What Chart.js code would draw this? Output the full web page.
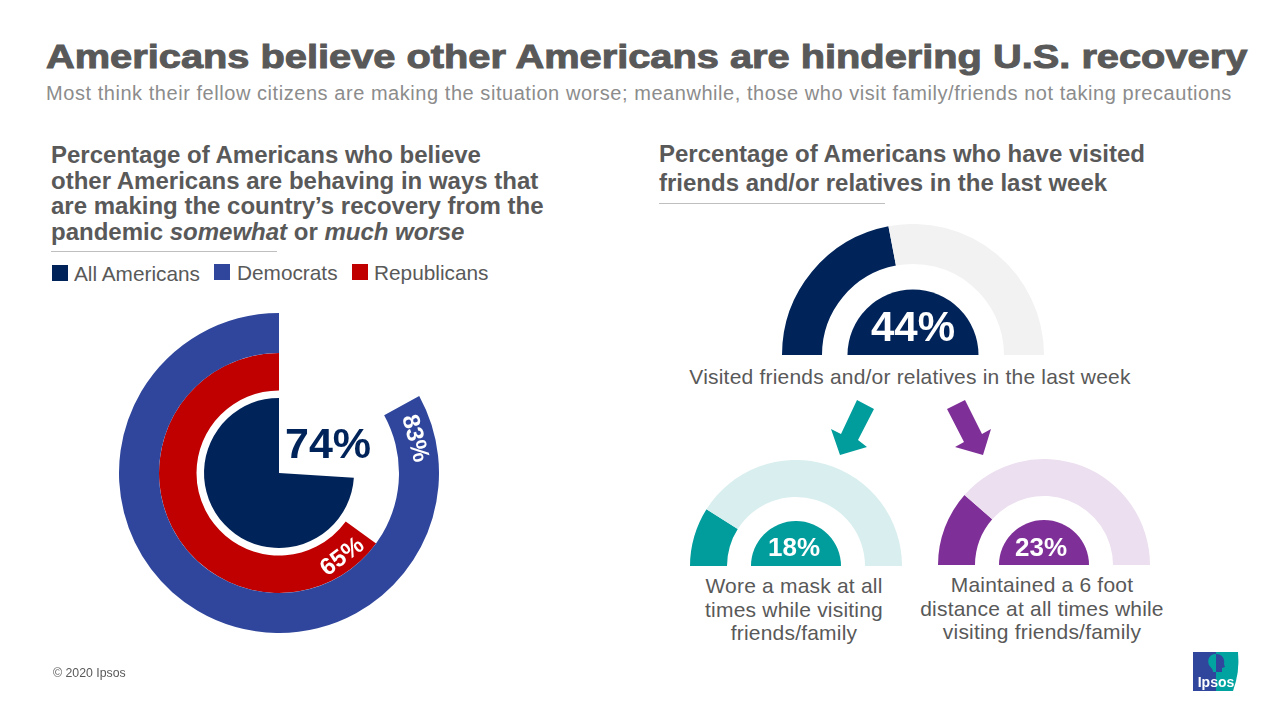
<!DOCTYPE html>
<html>
<head>
<meta charset="utf-8">
<title>Americans believe other Americans are hindering U.S. recovery</title>
<script src="https://cdn.jsdelivr.net/npm/chart.js@4"></script>
<style>
    html, body { margin: 0; padding: 0; background: #fff; }
    body { position: relative; width: 1280px; height: 720px; overflow: hidden; font-family: "Liberation Sans", Arial, sans-serif; color: #595959; }
    .abs { position: absolute; white-space: nowrap; }
    canvas { position: absolute; }
    #title { left: 46px; top: 34.5px; font-size: 34px; line-height: 42px; font-weight: bold; -webkit-text-stroke: 1px #595959; transform-origin: left center; transform: scaleX(1.17); }
    #subtitle { left: 46px; top: 81px; font-size: 20px; line-height: 24px; color: #8c8c8c; letter-spacing: 0.55px; }
    .head { font-size: 24px; font-weight: bold; }
    #headLeft { left: 51px; top: 142px; line-height: 25.5px; }
    #headRight { left: 659px; top: 139px; line-height: 29px; }
    .rule { position: absolute; height: 1px; background: #bfbfbf; width: 226px; }
    .legendBox { position: absolute; width: 16px; height: 16px; }
    .legendText { font-size: 20.8px; line-height: 24px; }
    .note { font-size: 21px; line-height: 23.5px; letter-spacing: 0.2px; text-align: center; transform: translateX(-50%); }
    #copy { left: 53px; top: 666px; font-size: 12.3px; line-height: 14px; }
</style>
</head>
<body>

<div class="abs" id="title">Americans believe other Americans are hindering U.S. recovery</div>
<div class="abs" id="subtitle">Most think their fellow citizens are making the situation worse; meanwhile, those who visit family/friends not taking precautions</div>

<div class="abs head" id="headLeft">Percentage of Americans who believe<br>other Americans are behaving in ways that<br>are making the country’s recovery from the<br>pandemic <i>somewhat</i> or <i>much worse</i></div>
<div class="rule" style="left:51px;top:251px"></div>
<div id="legend"></div>

<div class="abs head" id="headRight">Percentage of Americans who have visited<br>friends and/or relatives in the last week</div>
<div class="rule" style="left:659px;top:203px"></div>

<canvas id="ringChart" width="320" height="320" style="left:119px;top:313px"></canvas>
<canvas id="visitChart" width="262" height="131" style="left:782px;top:224px"></canvas>
<canvas id="maskChart" width="212" height="106" style="left:690px;top:460px"></canvas>
<canvas id="distanceChart" width="212" height="106" style="left:938px;top:459px"></canvas>

<div class="abs note" style="left:910px;top:365px" id="visitNote"></div>
<div class="abs note" style="left:794px;top:574px" id="maskNote"></div>
<div class="abs note" style="left:1042px;top:573px" id="distanceNote"></div>

<svg class="abs" style="left:0;top:0" width="1280" height="720">
    <polygon points="857,400 874,409 858,440 867,447 840,455 831,429 841,434" fill="#009D9C"/>
    <polygon points="947,409 965,400 982,434 991,429 983,455 955,447 964,442" fill="#7F3098"/>
    <!-- logo -->
    <path d="M1193 652H1216V691H1193Z" fill="#2F469C"/>
    <path d="M1216 652H1238Q1240 672 1233 691H1216Z" fill="#00A3A0"/>
    <path d="M1216 654C1209 654 1207 660 1209 665C1211 668 1213 669 1213 672H1216Z" fill="#00A3A0"/>
    <path d="M1216 654C1223 654 1225 660 1224 664L1225 667L1222 668V672H1216Z" fill="#2F469C"/>
    <text x="1216" y="687" font-family="Liberation Sans" font-size="14" font-weight="bold" fill="#fff" text-anchor="middle">Ipsos</text>
</svg>

<div class="abs" id="copy">© 2020 Ipsos</div>

<script>
const seriesNames = ["All Americans", "Democrats", "Republicans"];
const seriesValues = [74, 83, 65];
const seriesColors = ["#00245A", "#2F469C", "#C00000"];

const visitNotes = [
    "Visited friends and/or relatives in the last week",
    "Wore a mask at all<br>times while visiting<br>friends/family",
    "Maintained a 6 foot<br>distance at all times while<br>visiting friends/family",
];
const visitValues = [44, 18, 23];

document.addEventListener("DOMContentLoaded", function () {
    /* ======================
       LEGEND + NOTES
    ====================== */
    const legendSpots = [[52, 74, 265, 262], [214, 237, 264, 261], [352, 374, 264, 261]];
    document.getElementById("legend").innerHTML = seriesNames.map((name, i) => {
        const [boxX, textX, boxY, textY] = legendSpots[i];
        return `<div class="legendBox" style="left:${boxX}px;top:${boxY}px;background:${seriesColors[i]}"></div>
                <div class="abs legendText" style="left:${textX}px;top:${textY}px">${name}</div>`;
    }).join("");

    ["visitNote", "maskNote", "distanceNote"].forEach((id, i) => {
        document.getElementById(id).innerHTML = visitNotes[i];
    });

    /* ======================
       VALUE LABELS PLUGIN
    ====================== */
    const valueLabels = {
        id: "valueLabels",
        afterDatasetsDraw(chart, args, opts) {
            const ctx = chart.ctx;
            const area = chart.getDatasetMeta(0).data[0];
            ctx.save();
            ctx.textAlign = "center";
            (opts.items || []).forEach(item => {
                ctx.save();
                ctx.font = item.font;
                ctx.fillStyle = item.color;
                if (item.along !== undefined) {
                    // sits on the ring, a few degrees past the start of the arc
                    const arc = chart.getDatasetMeta(item.along).data[0];
                    const a = arc.startAngle + item.past * Math.PI / 180;
                    const r = (arc.innerRadius + arc.outerRadius) / 2 + (item.out || 0);
                    ctx.translate(arc.x + r * Math.cos(a), arc.y + r * Math.sin(a));
                    ctx.rotate(item.turn * Math.PI / 180);
                    ctx.textBaseline = "middle";
                    ctx.fillText(item.text, 0, 0);
                } else {
                    ctx.textBaseline = "alphabetic";
                    ctx.fillText(item.text, area.x + item.dx, area.y + item.dy);
                }
                ctx.restore();
            });
            ctx.restore();
        },
    };

    const baseOptions = {
        responsive: false,
        animation: false,
        events: [],
        layout: { padding: 0 },
    };

    /* ======================
       CONCENTRIC RINGS
    ====================== */
    const [allValue, demValue, repValue] = seriesValues;

    new Chart(document.getElementById("ringChart"), {
        type: "doughnut",
        plugins: [valueLabels],
        data: {
            datasets: [
                {
                    label: seriesNames[1],
                    data: [demValue, 100 - demValue],
                    backgroundColor: [seriesColors[1], "transparent"],
                    rotation: (100 - demValue) * 3.6,
                    weight: 40,
                },
                {
                    label: seriesNames[2],
                    data: [repValue, 100 - repValue],
                    backgroundColor: [seriesColors[2], "transparent"],
                    rotation: (100 - repValue) * 3.6,
                    weight: 37.5,
                },
                { label: "gap", data: [100], backgroundColor: ["transparent"], weight: 7.5 },
                {
                    label: seriesNames[0],
                    data: [allValue, 100 - allValue],
                    backgroundColor: [seriesColors[0], "transparent"],
                    rotation: (100 - allValue) * 3.6,
                    weight: 75,
                },
            ],
        },
        options: {
            ...baseOptions,
            cutout: 0,
            borderWidth: 0,
            plugins: {
                legend: { display: false },
                tooltip: { enabled: false },
                valueLabels: {
                    items: [
                        { text: allValue + "%", font: "bold 43px 'Liberation Sans'", color: seriesColors[0], dx: 49, dy: -15 },
                        { text: demValue + "%", font: "bold 24px 'Liberation Sans'", color: "#fff", along: 0, past: 14.5, turn: 75 },
                        { text: repValue + "%", font: "bold 24px 'Liberation Sans'", color: "#fff", along: 1, past: 17, turn: -37, out: 4 },
                    ],
                },
            },
        },
    });

    /* ======================
       HALF GAUGES
    ====================== */
    function halfGauge(id, value, dark, light, weights, font, dx, dy) {
        return new Chart(document.getElementById(id), {
            type: "doughnut",
            plugins: [valueLabels],
            data: {
                datasets: [
                    { data: [value, 100 - value], backgroundColor: [dark, light], weight: weights[0] },
                    { data: [100], backgroundColor: ["transparent"], weight: weights[1] },
                    { data: [100], backgroundColor: [dark], weight: weights[2] },
                ],
            },
            options: {
                ...baseOptions,
                cutout: 0,
                rotation: -90,
                circumference: 180,
                borderWidth: 0,
                plugins: {
                    legend: { display: false },
                    tooltip: { enabled: false },
                    valueLabels: {
                        items: [{ text: value + "%", font: font, color: "#fff", dx: dx, dy: dy }],
                    },
                },
            },
        });
    }

    halfGauge("visitChart", visitValues[0], "#00245A", "#F2F2F2", [40, 25.5, 65.5], "bold 42px 'Liberation Sans'", 0, -14);
    halfGauge("maskChart", visitValues[1], "#009D9C", "#D9EEEE", [37, 24, 45], "bold 26px 'Liberation Sans'", -2, -10);
    halfGauge("distanceChart", visitValues[2], "#7F3098", "#ECDFF0", [37, 24, 45], "bold 26px 'Liberation Sans'", -3, -9);
});
</script>
</body>
</html>
